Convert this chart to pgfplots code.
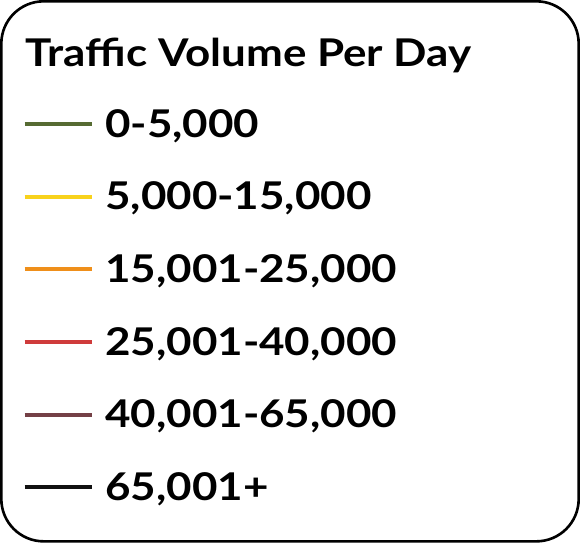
\documentclass[border=0pt]{standalone}
\usepackage{pgfplots}
\pgfplotsset{compat=1.18}
\usepackage{fontspec}
\setmainfont{Lato}[FakeStretch=1.15]
\definecolor{cA}{HTML}{566B32}
\definecolor{cB}{HTML}{F8D21C}
\definecolor{cC}{HTML}{EF8F1A}
\definecolor{cD}{HTML}{CF3B3B}
\definecolor{cE}{HTML}{744046}
\definecolor{cF}{HTML}{111111}
\begin{document}
\begin{tikzpicture}
\begin{axis}[
  width=580bp, height=541bp, scale only axis, hide axis,
  xmin=0, xmax=580, ymin=0, ymax=541, clip=false,
  legend image code/.code={\draw[#1, line width=4bp] (0bp,13bp) -- (67bp,13bp);},
  legend cell align=left,
  legend style={at={(axis cs:25,433.5)}, anchor=north west, draw=none, fill=none,
    inner sep=0pt, outer sep=0pt, row sep=34bp, column sep=11bp,
    font=\fontsize{38}{40}\selectfont\bfseries,
    nodes={inner sep=0pt, outer sep=0pt, text height=30bp, text depth=8bp, anchor=base west}},
]
\addlegendimage{cA}\addlegendentry{0-5,000}
\addlegendimage{cB}\addlegendentry{5,000-15,000}
\addlegendimage{cC}\addlegendentry{15,001-25,000}
\addlegendimage{cD}\addlegendentry{25,001-40,000}
\addlegendimage{cE}\addlegendentry{40,001-65,000}
\addlegendimage{cF}\addlegendentry{65,001+}
\draw[line width=2.6bp, rounded corners=42bp] (axis cs:4,3) rectangle (axis cs:576,538);
\node[anchor=base west, inner sep=0pt, font=\fontsize{38}{40}\selectfont\bfseries] at (axis cs:28,473) {Traffic Volume Per Day};
\end{axis}
\end{tikzpicture}
\end{document}
